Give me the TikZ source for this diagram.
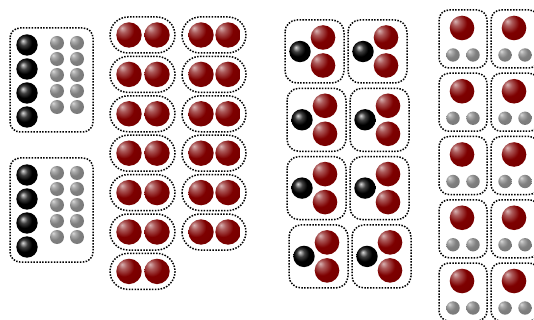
\documentclass[tikz,border=0pt]{standalone}
\definecolor{vinho}{HTML}{7E0000}
\makeatletter
\pgfdeclareradialshading[tikz@ball]{bolinha}{\pgfpoint{-14bp}{14bp}}{%
    color(0bp)=(tikz@ball!30!white);
    color(8bp)=(tikz@ball!65!white);
    color(20bp)=(tikz@ball);
    color(45bp)=(tikz@ball!90!black);
    color(70bp)=(tikz@ball!60!black)}
\makeatother
\begin{document}
\begin{tikzpicture}[x=1pt, y=-1pt,
        caixa/.style={line width=1.5pt, dash pattern=on 1.5pt off 1.4pt, rounded corners=#1},
        caixa/.default=10pt,
        preta/.style={ball color=black},
        cinza/.style={ball color=gray, shading=bolinha},
        vermelha/.style={ball color=vinho, shading=bolinha}]
        \useasboundingbox (0,0) rectangle (534,320);
        \clip (0,0) rectangle (534,320);

        % Quatro pretas e dez cinzas
        \foreach \o in {0,130} {
            \draw[caixa] (10,28+\o) rectangle (93,132+\o);
            \foreach \y in {45,69,93,117}
                \shade[preta] (27,\y+\o) circle (10.7pt);
            \foreach \y in {43,59,75,91,107}
                \foreach \x in {57,77}
                    \shade[cinza] (\x,\y+\o) circle (7pt);
        }

        % Pares de vermelhas
        \foreach \k [evaluate=\k as \y using 35+39.4*\k] in {0,...,6} {
            \draw[caixa=18pt] (110,\y-18) rectangle (175,\y+18);
            \shade[vermelha] (129,\y) circle (12.7pt);
            \shade[vermelha] (157,\y) circle (12.7pt);
        }
        \foreach \k [evaluate=\k as \y using 35+39.4*\k] in {0,...,5} {
            \draw[caixa=18pt] (182,\y-18) rectangle (246,\y+18);
            \shade[vermelha] (201,\y) circle (12.7pt);
            \shade[vermelha] (228,\y) circle (12.7pt);
        }

        % Uma preta e duas vermelhas
        \foreach \k/\d [evaluate=\k as \y using 51.5+68.3*\k] in {0/0,1/2,2/2,3/4} {
            \foreach \c in {0,63} {
                \draw[caixa=12pt] (285+\d+\c,\y-31.5) rectangle (344+\d+\c,\y+31.5);
                \shade[preta] (300+\d+\c,\y) circle (10.7pt);
                \shade[vermelha] (323+\d+\c,\y-14) circle (12.3pt);
                \shade[vermelha] (323+\d+\c,\y+14) circle (12.3pt);
            }
        }

        % Uma vermelha e duas cinzas
        \foreach \k [evaluate=\k as \t using 10+63.25*\k] in {0,...,4} {
            \foreach \l in {439,491} {
                \draw[caixa] (\l,\t) rectangle (\l+48,\t+58);
                \shade[vermelha] (\l+23,\t+18) circle (12.3pt);
                \shade[cinza] (\l+14,\t+45) circle (6.7pt);
                \shade[cinza] (\l+34,\t+45) circle (6.7pt);
            }
        }
    \end{tikzpicture}
\end{document}
